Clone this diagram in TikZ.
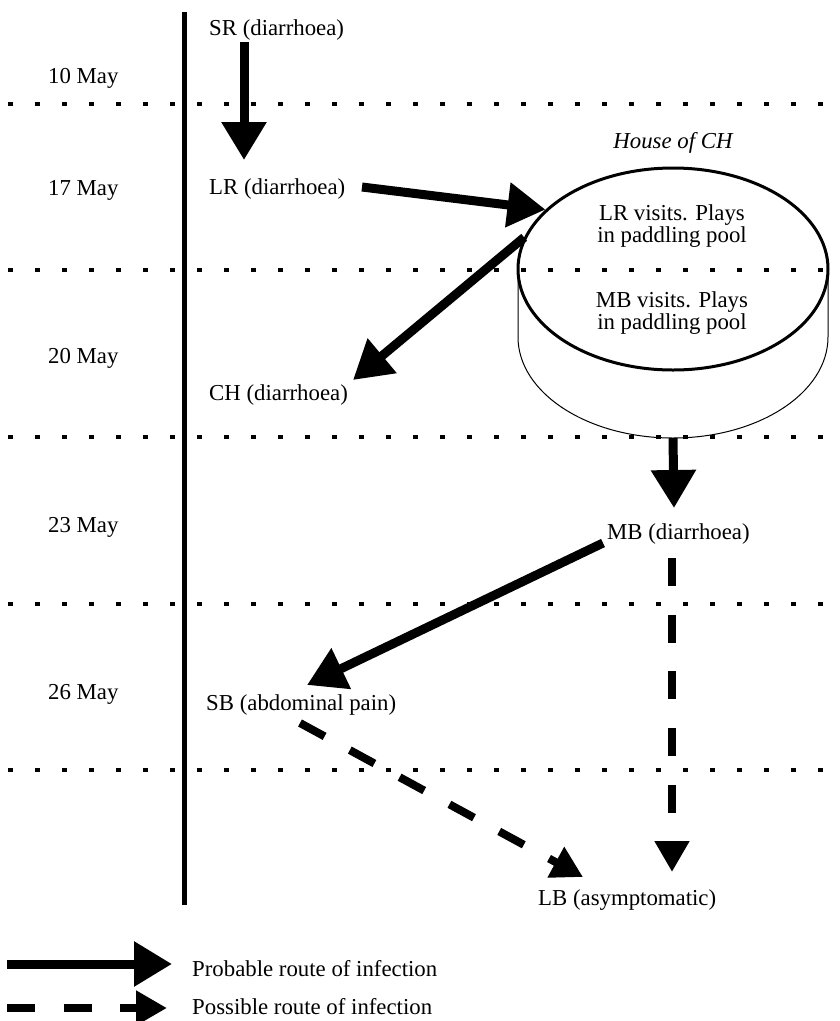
\documentclass[tikz,border=0pt]{standalone}
\usepackage{fontspec}
\setmainfont{Liberation Serif}
\usetikzlibrary{arrows.meta,shapes.geometric}

\tikzset{
  probable/.style={line width=9pt,-{Triangle[length=38pt,width=43pt]}},
  possible/.style={line width=8pt,dash pattern=on 28pt off 28.7pt,-{Triangle[length=31pt,width=33pt]}},
  daysep/.style={line width=3.5pt,dash pattern=on 5pt off 22pt},
  lbl/.style={anchor=base west,inner sep=0pt},
}

\begin{document}
\begin{tikzpicture}[x=1pt,y=-1pt,font=\fontsize{22.8}{22.5}\selectfont]
  \useasboundingbox (0,0) rectangle (839,1021);

  % the house of CH, drawn as a pool
  \node[ellipse,draw,line width=3pt,minimum width=310pt,minimum height=202pt,inner sep=0pt] (pool) at (673,269) {};
  \node[ellipse,minimum width=310pt,minimum height=202pt,inner sep=0pt,outer sep=0pt] (base) at (673,337) {};
  \draw[line width=1pt] (base.west |- pool.center) -- (base.west)
    arc[start angle=180,end angle=360,x radius=155pt,y radius=101pt] -- (base.east |- pool.center);
  \node (house) at (673,143) {\itshape House of CH};
  \node[align=center] (lrvisit) at (672,226) {LR visits. Plays\\in paddling pool};
  \node[align=center] (mbvisit) at (672,313) {MB visits. Plays\\in paddling pool};

  % day separators and time axis
  \foreach \y in {104,270,437,604,770}
    \draw[daysep] (8,\y) -- (832,\y);
  \draw[line width=5pt] (184,12) -- (184,905);

  \foreach \d/\y in {10/83,17/195,20/363,23/532,26/699}
    \node[lbl] (may\d) at (48,\y) {\d\ May};

  % cases
  \node[lbl] (sr) at (209,35) {SR (diarrhoea)};
  \node[lbl] (lr) at (209,194) {LR (diarrhoea)};
  \node[lbl] (ch) at (209,400) {CH (diarrhoea)};
  \node[lbl] (mb) at (607,539) {MB (diarrhoea)};
  \node[lbl] (sb) at (206,710) {SB (abdominal pain)};
  \node[lbl] (lb) at (538,905) {LB (asymptomatic)};

  \coordinate (sr-out) at (244,42);
  \coordinate (lr-in) at (244,160);
  \coordinate (lr-out) at (362,187);
  \coordinate (ch-in) at (353,380);
  \coordinate (mb-in) at (674,508);
  \coordinate (mb-out) at (603,543);
  \coordinate (mb-down) at (672,558);
  \coordinate (sb-in) at (307,685);
  \coordinate (sb-out) at (300,723);
  \coordinate (lb-top) at (672,872);
  \coordinate (lb-side) at (583,877);

  % routes of infection
  \draw[probable] (sr-out) -- (lr-in);
  \draw[probable] (lr-out) -- (pool.155);
  \draw[probable] (pool.168) -- (ch-in);
  \draw[probable] (base.south) -- (mb-in);
  \draw[probable] (mb-out) -- (sb-in);
  \draw[possible] (mb-down) -- (lb-top);
  \draw[possible] (sb-out) -- (lb-side);

  % key
  \node[lbl] (keyprob) at (192,976) {Probable route of infection};
  \node[lbl] (keyposs) at (192,1014) {Possible route of infection};
  \coordinate (keyprob-from) at (7,964);
  \coordinate (keyprob-to) at (172,964);
  \coordinate (keyposs-from) at (7,1008);
  \coordinate (keyposs-to) at (167,1008);
  \draw[probable] (keyprob-from) -- (keyprob-to);
  \draw[possible] (keyposs-from) -- (keyposs-to);
\end{tikzpicture}
\end{document}
